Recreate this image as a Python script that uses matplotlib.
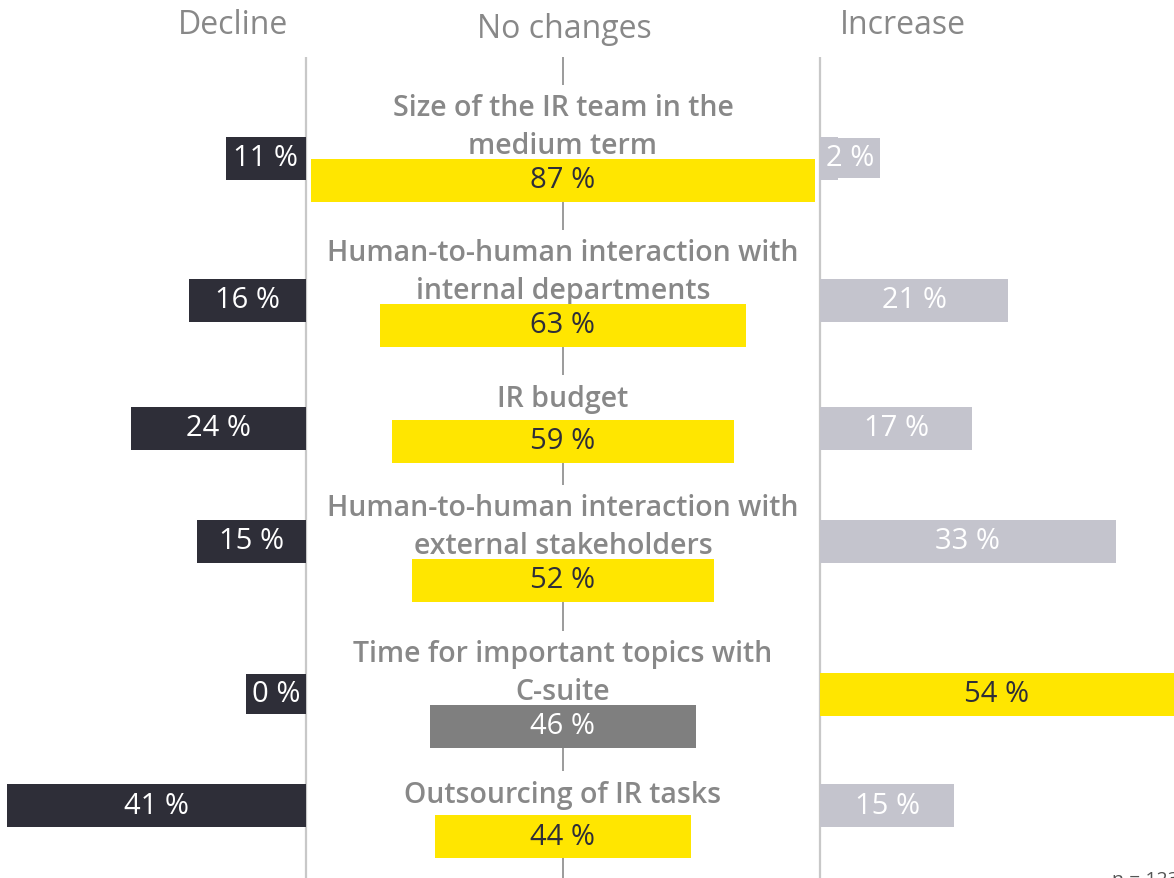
import matplotlib
matplotlib.use("Agg")
from matplotlib import pyplot as plt

# data
items = ["Size of the IR team in the\nmedium term",
         "Human-to-human interaction with\ninternal departments",
         "IR budget",
         "Human-to-human interaction with\nexternal stakeholders",
         "Time for important topics with\nC-suite",
         "Outsourcing of IR tasks"]
decline = [11, 16, 24, 15, 0, 41]
no_change = [87, 63, 59, 52, 46, 44]
increase = [2, 21, 17, 33, 54, 15]
headers = ["Decline", "No changes", "Increase"]

# layout (pixel rows)
W, H = 1174, 879
mid_y = [181, 326, 442, 581, 727, 838]
side_y = [159, 301, 429, 542, 695, 807]
bar_h = 43

DARK = '#2e2e38'
YELLOW = '#ffe600'
LIGHT = '#c4c4cd'
MIDGRAY = '#7f7f7f'
TXT = '#888888'

plt.rcParams['font.family'] = ['Open Sans', 'DejaVu Sans']

fig = plt.figure(figsize=(W / 100, H / 100), dpi=100)
axl = fig.add_axes([0, 0, 306 / W, 1])
axm = fig.add_axes([306 / W, 0, 514 / W, 1])
axr = fig.add_axes([820 / W, 0, 354 / W, 1])
for ax in (axl, axm, axr):
    ax.set_ylim(H, 0)
    ax.axis('off')
axl.set_xlim(-42, 0)
axm.set_xlim(-44.3, 44.3)
axr.set_xlim(0, 39.5)

# panel separators
axl.plot([0, 0], [58, H], color='#c8c8c8', lw=1.6, solid_capstyle='butt', zorder=1, clip_on=False)
axr.plot([0, 0], [58, H], color='#c8c8c8', lw=1.6, solid_capstyle='butt', zorder=1, clip_on=False)
axm.plot([0, 0], [58, H], color='#8a8a8a', lw=1.2, solid_capstyle='butt', zorder=0)

LBL = 21


def side_label(ax, v, y, sign, color, tcolor, lim):
    # label centred in the bar, or boxed when the bar is too short for it
    w_px = abs(v) / lim * ax.bbox.width
    if w_px >= 70:
        vis = min(v, lim)
        ax.text(sign * vis / 2, y, f"{v} %", ha='center', va='center',
                color=tcolor, fontsize=LBL, zorder=3)
    else:
        ax.annotate(f"{v} %", (0, y), xytext=(sign * 4.3, 0), textcoords='offset points',
                    ha='right' if sign < 0 else 'left', va='center', color=tcolor,
                    fontsize=LBL, zorder=3,
                    bbox=dict(boxstyle='square,pad=0.2', fc=color, ec='none'))


for i in range(len(items)):
    vals = [decline[i], no_change[i], increase[i]]
    top = max(vals)
    cm = YELLOW if no_change[i] == top else MIDGRAY
    cr = YELLOW if increase[i] == top else LIGHT

    # decline
    axl.barh(side_y[i], -decline[i], height=bar_h, color=DARK, zorder=2)
    side_label(axl, decline[i], side_y[i], -1, DARK, 'white', 42)

    # no changes
    axm.barh(mid_y[i], no_change[i], left=-no_change[i] / 2, height=bar_h, color=cm, zorder=2)
    axm.text(0, mid_y[i], f"{no_change[i]} %", ha='center', va='center',
             color='white' if cm == MIDGRAY else DARK, fontsize=LBL, zorder=3)
    n = items[i].count('\n') + 1
    ty = mid_y[i] - bar_h / 2 - 10 - 11 * n
    axm.text(0, ty, items[i], ha='center', va='center', color=TXT, fontsize=20.5,
             fontweight='semibold', linespacing=1.38, zorder=1.5,
             bbox=dict(boxstyle='square,pad=0.3', fc='white', ec='none'))

    # increase
    axr.barh(side_y[i], increase[i], height=bar_h, color=cr, zorder=2)
    side_label(axr, increase[i], side_y[i], 1, cr, DARK if cr == YELLOW else 'white', 39.5)

fig.text(233 / W, 1 - 25 / H, headers[0], ha='center', va='center', color=TXT, fontsize=23)
fig.text(564 / W, 1 - 30 / H, headers[1], ha='center', va='center', color=TXT, fontsize=23)
fig.text(903 / W, 1 - 25 / H, headers[2], ha='center', va='center', color=TXT, fontsize=23)
fig.text(1112 / W, 1 - 885 / H, "n = 123", ha='left', va='baseline', color='#555555', fontsize=14)

fig.savefig('out.png', dpi=100)
